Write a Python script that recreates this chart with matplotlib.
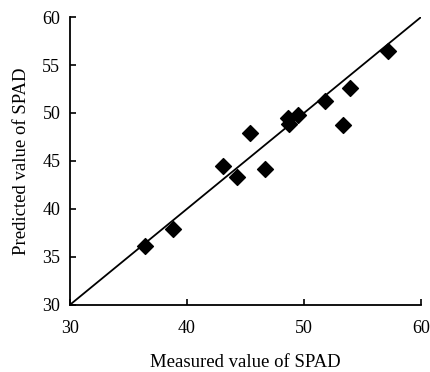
import matplotlib
matplotlib.use('Agg')
import matplotlib.pyplot as plt

plt.rcParams['font.family'] = ['Liberation Serif', 'DejaVu Serif']

# Measured vs predicted SPAD values
measured = [36.4, 38.8, 43.1, 44.3, 45.4, 46.7, 48.6, 48.7, 49.5, 51.8, 53.3, 53.9, 57.2]
predicted = [36.1, 37.9, 44.5, 43.3, 47.9, 44.2, 49.5, 48.8, 49.8, 51.2, 48.7, 52.6, 56.5]
xticks = [30, 40, 50, 60]
yticks = [30, 35, 40, 45, 50, 55, 60]

fig = plt.figure(figsize=(4.3, 3.72), dpi=100)
ax = fig.add_axes([0.163, 0.181, 0.816, 0.773])

ax.plot([30, 60], [30, 60], color='black', lw=1.3)
ax.scatter(measured, predicted, marker='D', s=65, color='black', zorder=3, clip_on=False)

ax.set_xlim(30, 60)
ax.set_ylim(30, 60)
ax.set_xticks(xticks)
ax.set_yticks(yticks)
ax.tick_params(direction='in', length=4, width=1.2, labelsize=13)
ax.tick_params(axis='x', pad=11)
ax.tick_params(axis='y', pad=7)
for s in ['top', 'right']:
    ax.spines[s].set_visible(False)
for s in ['left', 'bottom']:
    ax.spines[s].set_linewidth(1.3)

ax.set_xlabel('Measured value of SPAD', fontsize=13.5, labelpad=12)
ax.set_ylabel('Predicted value of SPAD', fontsize=13.5, labelpad=9)

fig.savefig('out.png', dpi=100)
